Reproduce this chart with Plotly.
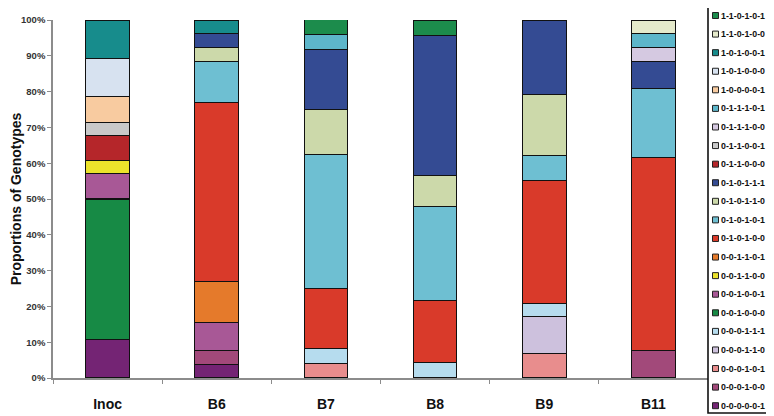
import plotly.graph_objects as go

categories = ["Inoc", "B6", "B7", "B8", "B9", "B11"]

# genotype names, bottom of the stack first
genotypes = [
    "0-0-0-0-0-1", "0-0-0-1-0-0", "0-0-0-1-0-1", "0-0-0-1-1-0", "0-0-0-1-1-1",
    "0-0-1-0-0-0", "0-0-1-0-0-1", "0-0-1-1-0-0", "0-0-1-1-0-1", "0-1-0-1-0-0",
    "0-1-0-1-0-1", "0-1-0-1-1-0", "0-1-0-1-1-1", "0-1-1-0-0-0", "0-1-1-0-0-1",
    "0-1-1-1-0-0", "0-1-1-1-0-1", "1-0-0-0-0-1", "1-0-1-0-0-0", "1-0-1-0-0-1",
    "1-1-0-1-0-0", "1-1-0-1-0-1",
]

colors = [
    "#742474", "#a2497a", "#e88d8d", "#cdc1dd", "#b6dcee",
    "#178a45", "#a85896", "#ece32b", "#e57a2b", "#d93a2a",
    "#6ebfd2", "#ccd9aa", "#344b93", "#b5262a", "#c9c9c9",
    "#d5c9e1", "#5db6ca", "#f8cba0", "#d7e2f0", "#178c8c",
    "#e5eacb", "#1c8c4c",
]

# percentages per category (Inoc, B6, B7, B8, B9, B11)
v_000001 = [10.71, 3.85, 0, 0, 0, 0]
v_000100 = [0, 3.85, 0, 0, 0, 7.69]
v_000101 = [0, 0, 4.17, 0, 6.90, 0]
v_000110 = [0, 0, 0, 0, 10.34, 0]
v_000111 = [0, 0, 4.17, 4.35, 3.45, 0]
v_001000 = [39.29, 0, 0, 0, 0, 0]
v_001001 = [7.14, 7.69, 0, 0, 0, 0]
v_001100 = [3.57, 0, 0, 0, 0, 0]
v_001101 = [0, 11.54, 0, 0, 0, 0]
v_010100 = [0, 50.0, 16.67, 17.39, 34.48, 53.85]
v_010101 = [0, 11.54, 37.5, 26.09, 6.90, 19.23]
v_010110 = [0, 3.85, 12.5, 8.70, 17.24, 0]
v_010111 = [0, 3.85, 16.67, 39.13, 20.69, 7.69]
v_011000 = [7.14, 0, 0, 0, 0, 0]
v_011001 = [3.57, 0, 0, 0, 0, 0]
v_011100 = [0, 0, 0, 0, 0, 3.85]
v_011101 = [0, 0, 4.17, 0, 0, 3.85]
v_100001 = [7.14, 0, 0, 0, 0, 0]
v_101000 = [10.71, 0, 0, 0, 0, 0]
v_101001 = [10.71, 3.84, 0, 0, 0, 0]
v_110100 = [0, 0, 0, 0, 0, 3.85]
v_110101 = [0, 0, 4.17, 4.35, 0, 0]

values = [
    v_000001, v_000100, v_000101, v_000110, v_000111, v_001000, v_001001,
    v_001100, v_001101, v_010100, v_010101, v_010110, v_010111, v_011000,
    v_011001, v_011100, v_011101, v_100001, v_101000, v_101001, v_110100,
    v_110101,
]

y_ticks = [0, 10, 20, 30, 40, 50, 60, 70, 80, 90, 100]
y_tick_labels = ["0%", "10%", "20%", "30%", "40%", "50%", "60%", "70%", "80%", "90%", "100%"]

FONT = "Liberation Sans"

fig = go.Figure()
for name, col, vals in zip(genotypes, colors, values):
    fig.add_trace(go.Bar(
        x=categories, y=vals, name=name,
        marker=dict(color=col, line=dict(color="#111111", width=1.1)),
        showlegend=False,
    ))

# page has an 8px body margin: figure coordinates = page coordinates - 8
OFF = 8
W, H = 774 - OFF, 416 - OFF
ml, mt = 53 - OFF, 20 - OFF
mr = W - (708 - OFF)
mb = H - (378 - OFF)
pw, ph = W - ml - mr, H - mt - mb


def px(x):  # page pixel x -> paper
    return (x - OFF - ml) / pw


def py(y):  # page pixel y -> paper
    return (H - mb - (y - OFF)) / ph


# legend drawn as a boxed list (top entry = top of stack)
L, R, T, B = 708, 772, 5, 413
shapes = [dict(type="rect", xref="paper", yref="paper",
               x0=px(L), x1=px(R), y0=py(B), y1=py(T),
               line=dict(color="#111111", width=1.6), fillcolor="white")]
annotations = []
n = len(genotypes)
for i, (name, col) in enumerate(zip(genotypes[::-1], colors[::-1])):
    yc = 15.5 + i * (405.7 - 15.5) / (n - 1)
    shapes.append(dict(type="rect", xref="paper", yref="paper",
                       x0=px(712.5), x1=px(718.5), y0=py(yc + 3), y1=py(yc - 3),
                       line=dict(color="#222222", width=1), fillcolor=col))
    annotations.append(dict(xref="paper", yref="paper", x=px(719.5), y=py(yc),
                            text=name, showarrow=False, xanchor="left", yanchor="middle",
                            font=dict(family=FONT, size=8.8, color="#111111", weight="bold")))

fig.update_layout(
    barmode="stack",
    bargap=0.6,
    width=W, height=H,
    margin=dict(l=ml, r=mr, t=mt, b=mb),
    paper_bgcolor="white", plot_bgcolor="white",
    font=dict(family=FONT, color="#111111"),
    shapes=shapes,
    annotations=annotations,
    xaxis=dict(
        automargin=False,
        showline=True, linecolor="#8c8c8c", linewidth=1.5,
        ticks="outside", tickson="boundaries", ticklen=4, tickcolor="#8c8c8c",
        tickfont=dict(family=FONT, size=14, color="#111111", weight="bold"),
        ticklabelstandoff=12,
        showgrid=False,
    ),
    yaxis=dict(
        automargin=False,
        range=[0, 100], tickvals=y_ticks, ticktext=y_tick_labels,
        showline=True, linecolor="#8c8c8c", linewidth=1.5,
        ticks="outside", ticklen=4, tickcolor="#8c8c8c",
        tickfont=dict(family=FONT, size=9.5, color="#333333", weight="bold"),
        showgrid=False, zeroline=False,
        title=dict(text="Proportions of Genotypes", standoff=5,
                   font=dict(family=FONT, size=14, color="#111111", weight="bold")),
    ),
)

fig.write_html("out.html")
